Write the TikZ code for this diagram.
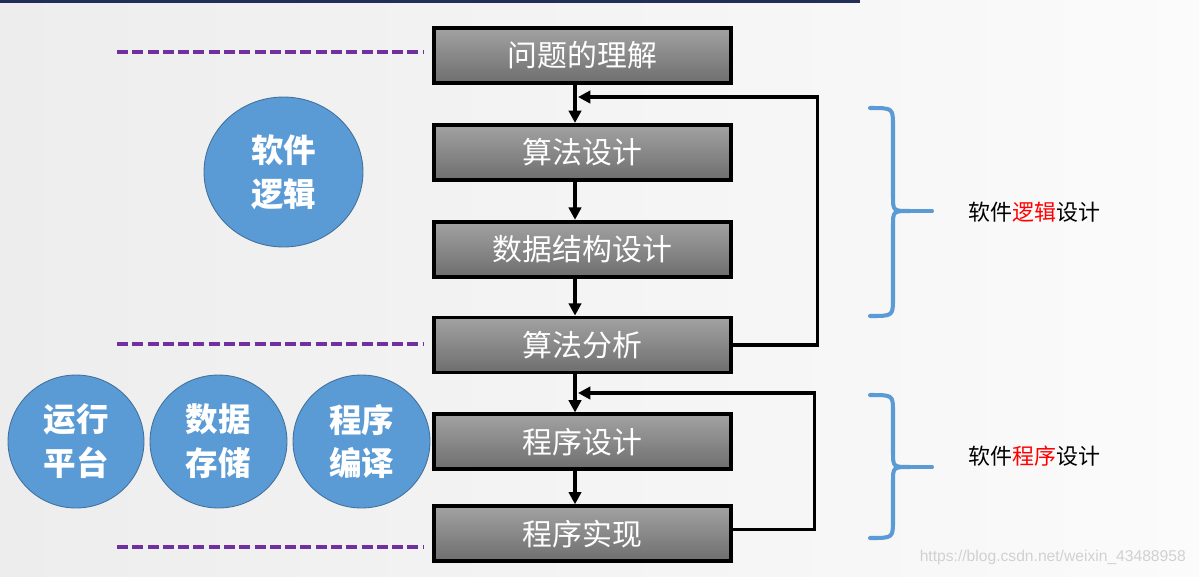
\documentclass[tikz,border=0pt]{standalone}
\usepackage{fontspec}
\setmainfont{Noto Sans CJK SC}
\newfontfamily\urlfont{Liberation Sans}
\usetikzlibrary{arrows.meta,positioning,shapes.geometric}
\definecolor{bgl}{RGB}{237,237,237}
\definecolor{bgr}{RGB}{251,251,251}
\definecolor{boxtop}{RGB}{162,162,162}
\definecolor{boxbot}{RGB}{110,110,110}
\definecolor{ball}{RGB}{91,155,213}
\definecolor{balledge}{RGB}{65,113,156}
\definecolor{guidep}{RGB}{112,48,160}
\definecolor{topbar}{RGB}{35,45,90}
\definecolor{hot}{RGB}{255,0,0}

\begin{document}
\begin{tikzpicture}[x=0.02cm,y=-0.02cm,
    stepbox/.style={draw=black, line width=2.2pt, top color=boxtop,
      bottom color=boxbot, minimum width=5.94cm, minimum height=1.1cm,
      inner sep=0pt, text=white, font=\fontsize{17}{20}\selectfont},
    ballnode/.style={ellipse, fill=ball, draw=balledge, line width=0.5pt,
      inner sep=0pt, text=white, align=center,
      font=\fontsize{18.5}{25}\selectfont\bfseries},
    flow/.style={line width=1.8pt, -{Triangle[length=7pt,width=7pt]}},
    guide/.style={guidep, line width=2.2pt, dash pattern=on 6.3pt off 2.4pt},
    curly/.style={ball, line width=2.3pt, line cap=round, line join=round},
    node distance=0.76cm]
  \useasboundingbox (0,0) rectangle (1199,576);
  \fill[left color=bgl, right color=bgr] (0,0) rectangle (1199,576);
  \fill[topbar] (0,0) rectangle (860,3);

  % main chain
  \node[stepbox] (q) at (582.5,55.5) {问题的理解};
  \node[stepbox, below=of q] (alg) {算法设计};
  \node[stepbox, below=of alg] (ds) {数据结构设计};
  \node[stepbox, below=0.74cm of ds] (ana) {算法分析};
  \node[stepbox, below=of ana] (pd) {程序设计};
  \node[stepbox, below=0.66cm of pd] (impl) {程序实现};

  \foreach \a/\b in {q/alg, alg/ds, ds/ana, ana/pd, pd/impl}
    \draw[flow] ([xshift=-0.15cm]\a.south) -- ([xshift=-0.15cm]\b.north);

  % feedback loops
  \coordinate (back1) at (578,97);
  \coordinate (back2) at (578,393);
  \draw[flow] (ana.east) -- ++(85,0) |- (back1);
  \draw[flow] ([yshift=0.08cm]impl.east) -- ++(82,0) |- (back2);

  % dashed guides
  \draw[guide] (117,52) -- (424,52);
  \draw[guide] (117,344) -- (424,344);
  \draw[guide] (117,547) -- (424,547);

  % circles
  \node[ballnode, minimum width=3.18cm, minimum height=3cm] (logic)
    at (283.5,172) {软件\\逻辑};
  \node[ballnode, minimum width=2.72cm, minimum height=2.66cm] (run)
    at (76,441.5) {运行\\平台};
  \node[ballnode, minimum width=2.74cm, minimum height=2.66cm] (store)
    at (218.5,441.5) {数据\\存储};
  \node[ballnode, minimum width=2.74cm, minimum height=2.66cm] (comp)
    at (361.5,441.5) {程序\\编译};

  % braces
  \draw[curly] (870,108) .. controls (893,108) .. (893,126) -- (893,196)
    .. controls (893,211) .. (910,211) .. controls (893,211) .. (893,226)
    -- (893,298) .. controls (893,316) .. (870,316);
  \draw[curly] (910,211) -- (932,211);
  \draw[curly] (870,395) .. controls (893,395) .. (893,412) -- (893,452)
    .. controls (893,467) .. (910,467) .. controls (893,467) .. (893,482)
    -- (893,520) .. controls (893,538) .. (870,538);
  \draw[curly] (910,467) -- (932,467);

  \node[font=\fontsize{12.5}{15}\selectfont, anchor=west] (lab1) at (962,212)
    {软件\textcolor{hot}{逻辑}设计};
  \node[font=\fontsize{12.5}{15}\selectfont, anchor=west] (lab2) at (962,456)
    {软件\textcolor{hot}{程序}设计};

  \node[font=\urlfont\fontsize{8.9}{10}\selectfont, text=black!18, anchor=east]
    (mark) at (1192,557) {https://blog.csdn.net/weixin\_43488958};
\end{tikzpicture}
\end{document}
